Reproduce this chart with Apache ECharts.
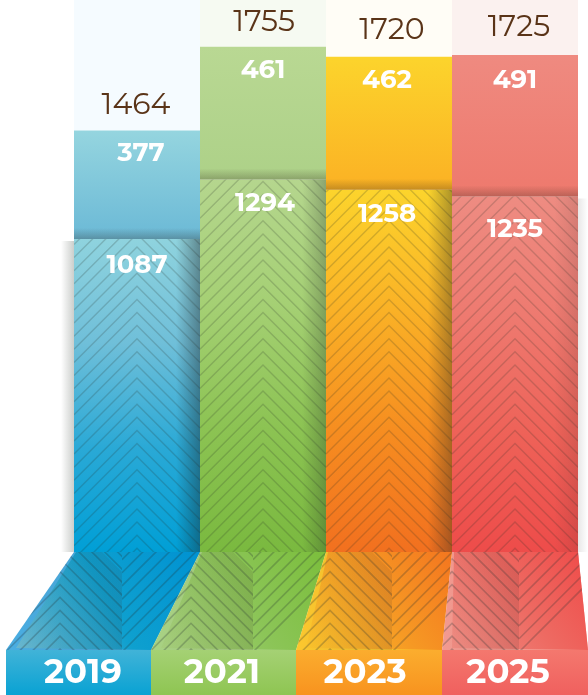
<!DOCTYPE html>
<html><head><meta charset="utf-8">
<style>html,body{margin:0;padding:0;background:#fff}#c{width:588px;height:695px}</style>
<script src="https://cdn.jsdelivr.net/npm/echarts@6/dist/echarts.min.js"></script>
</head><body><div id="c"></div>
<script>
const years = ['2019','2021','2023','2025'];
const lowerValues = [1087,1294,1258,1235];
const upperValues = [377,461,462,491];
const totalValues = [1464,1755,1720,1725];

const axisMax = 1917;
const FONT = 'Montserrat, Inter, "Open Sans", sans-serif';
const lowerNudge = [[0,8],[2,6],[-2,7],[0,15]];
const upperNudge = [[4,5],[0,6],[-2,6],[0,7]];
const totalNudge = [[-1,-5],[1,-4],[3,-7],[4,-8]];
const paleColors = ['#f5fbff','#f6faf2','#fffdf6','#fbf1ef'];
const lowerStops = [['#8fd3de','#6fbfd9','#2aa9d6','#009fd6'],['#b5d68e','#a5d074','#8cc353','#7ab93f'],['#fcd42c','#fab126','#f68d20','#f2701f'],['#ee8c82','#ee7a70','#ee6258','#ee4c4a']];
const upperStops = [['#95d5df','#6bb9d6'],['#b9d893','#add188'],['#fcd42c','#fbb124'],['#ef8a80','#ee796d']];
const floorStops = [['#6cb9d0','#0ea0cf','#0092d2'],['#a8d07f','#8cc558','#7bbe3c'],['#fcc62c','#f69a24','#f4761f'],['#f08e84','#ee6a62','#ef4b49']];
const stripColors = ['#4aaee3','#a9d384','#fcc82e','#f39a90'];
const bandStops = [['#41b3d8','#09a2d3'],['#a5d174','#8ec552'],['#fbad2e','#f8931f'],['#f4786e','#f0605e']];
const rightShade = [0.42,0.28,0.36,0.12];
const floorBottom = [6,151,296,442,588];
const floorApex = [60,191,330,452];
const floorSplit = [122,253,392,519];
const yearCentre = [83,222,365,508];

const vGrad = c => ({type:'linear',x:0,y:0,x2:0,y2:1,colorStops:c.map((s,i)=>({offset:i/(c.length-1),color:s}))});
const diagGrad = c => ({type:'linear',x:0,y:1,x2:1,y2:0,colorStops:c.map((s,i)=>({offset:i/(c.length-1),color:s}))});
const hGrad = (a,b,rgb) => ({type:'linear',x:0,y:0,x2:1,y2:0,colorStops:[{offset:0,color:`rgba(${rgb},${a})`},{offset:1,color:`rgba(${rgb},${b})`}]});
const vFade = (a,b,rgb) => ({type:'linear',x:0,y:0,x2:0,y2:1,colorStops:[{offset:0,color:`rgba(${rgb},${a})`},{offset:1,color:`rgba(${rgb},${b})`}]});
const barInk = {stroke:'rgba(40,50,40,0.2)',lineWidth:1.4,fill:null};
const floorInk = {stroke:'rgba(40,50,50,0.26)',lineWidth:1.6,fill:null};
const line = (pts,st) => ({type:'polyline',shape:{points:pts},style:st,silent:true});
const solid = {opacity:1};

function paleItem(p,api){
  const i=api.value(0), t=api.coord([i,api.value(1)]), top=api.coord([i,axisMax]);
  const w=api.size([1,0])[0];
  return {type:'rect',shape:{x:t[0]-w/2,y:top[1],width:w,height:t[1]-top[1]},style:{fill:paleColors[i]},silent:true};
}
function hatchItem(p,api){
  const i=api.value(0), t=api.coord([i,api.value(1)]), b=api.coord([i,0]);
  const w=api.size([1,0])[0], h=w/2, cx=t[0], kids=[];
  for(let y=b[1]-3.7;y>t[1]-h;y-=13.1) kids.push(line([[cx-h,y+h],[cx,y],[cx+h,y+h]],barInk));
  const clipped={type:'group',children:kids,clipPath:{type:'rect',shape:{x:cx-h,y:t[1],width:w,height:b[1]-t[1]}}};
  const H=b[1]-t[1], shades=[clipped];
  shades.push({type:'rect',shape:{x:cx-h,y:t[1]-11,width:w,height:11},style:{fill:vFade(0,0.26,'40,30,20')}});
  shades.push({type:'rect',shape:{x:cx+h-24,y:t[1],width:24,height:H},style:{fill:hGrad(0,rightShade[i],'30,35,35')}});
  if(i===0) shades.push({type:'rect',shape:{x:cx-h-13,y:t[1]+2,width:13,height:H-2},style:{fill:hGrad(0,0.28,'70,80,70')}});
  if(i===3) shades.push({type:'rect',shape:{x:cx+h,y:t[1]+2,width:10,height:H-2},style:{fill:hGrad(0.12,0,'70,60,60')}});
  return {type:'group',children:shades,silent:true};
}
function floorItem(p,api){
  const i=api.value(0), b=api.coord([i,0]), w=api.size([1,0])[0];
  const tl=b[0]-w/2, tr=b[0]+w/2, y0=b[1], y1=650, y2=695, bl=floorBottom[i], br=floorBottom[i+1];
  const sp=floorSplit[i], ax=floorApex[i], kids=[];
  const outer=[[tl,y0],[tr,y0],[br,y1],[bl,y1]];
  kids.push({type:'polygon',shape:{points:outer},style:{fill:stripColors[i]}});
  kids.push({type:'polygon',shape:{points:[[tl+2,y0],[tr,y0],[br,y1],[bl+10,y1-2]]},style:{fill:diagGrad(floorStops[i])}});
  const dark=[[tl,y0],[sp-20,y0],[sp,y0+20],[sp,y1],[bl,y1]];
  kids.push({type:'polygon',shape:{points:dark},style:{fill:hGrad(0,0.12,'60,40,40')}});
  const left=[], right=[];
  for(let y=y1+12;y>y0-260;y-=12.9) left.push(line([[ax-200,y+200],[ax,y],[ax+200,y+200]],floorInk));
  for(let y=y1+2;y>y0-10;y-=13.2) right.push(line([[sp,y],[sp+200,y-200]],floorInk));
  const clipL=[[tl,y0],[Math.min(sp,tr),y0],[Math.min(sp,tr),y1],[bl,y1]];
  const clipR=[[sp,y0],[tr,y0],[br,y1],[sp,y1]];
  kids.push({type:'group',children:left,clipPath:{type:'polygon',shape:{points:clipL}}});
  kids.push({type:'group',children:right,clipPath:{type:'polygon',shape:{points:clipR}}});
  kids.push({type:'rect',shape:{x:bl,y:y1,width:br-bl,height:y2-y1},style:{fill:vGrad(bandStops[i])}});
  kids.push({type:'text',style:{text:years[i],x:yearCentre[i],y:(y1+y2)/2,fill:'#fff',font:'700 34px '+FONT,textAlign:'center',textVerticalAlign:'middle'}});
  return {type:'group',children:kids,silent:true};
}

const chart = echarts.init(document.getElementById('c'),null,{renderer:'canvas'});
chart.setOption({
  animation:false,
  backgroundColor:'#fff',
  grid:{left:74,top:0,width:504,height:552},
  xAxis:{type:'category',data:years,show:false,boundaryGap:true},
  yAxis:{type:'value',min:0,max:axisMax,show:false},
  series:[
    {type:'custom',name:'backdrop',z:1,clip:false,renderItem:paleItem,
     data:totalValues.map((v,i)=>[i,v]),encode:{x:0,y:1},silent:true},
    {type:'custom',name:'hatch',z:3,clip:false,renderItem:hatchItem,
     data:lowerValues.map((v,i)=>[i,v]),encode:{x:0,y:1},silent:true},
    {type:'bar',name:'lower',stack:'s',barWidth:'100%',z:2,
     data:lowerValues.map((v,i)=>({value:v,itemStyle:{color:vGrad(lowerStops[i])}}))},
    {type:'bar',name:'upper',stack:'s',barWidth:'100%',z:2,
     data:upperValues.map((v,i)=>({value:v,itemStyle:{color:vGrad(upperStops[i])}}))},
    {type:'custom',name:'floor',z:7,clip:false,renderItem:floorItem,
     data:years.map((y,i)=>[i,0]),encode:{x:0,y:1},silent:true},
    {type:'scatter',name:'lowerLabels',z:8,symbolSize:0,itemStyle:solid,
     data:lowerValues.map((v,i)=>({value:[i,v],label:{offset:[lowerNudge[i][0],lowerNudge[i][1]+5]}})),
     label:{show:true,position:'bottom',distance:0,color:'#fff',fontFamily:FONT,fontWeight:700,fontSize:26,
       formatter:p=>String(p.value[1])}},
    {type:'scatter',name:'upperLabels',z:8,symbolSize:0,itemStyle:solid,
     data:upperValues.map((v,i)=>({value:[i,v+lowerValues[i]],label:{offset:[upperNudge[i][0],upperNudge[i][1]+5],formatter:String(v)}})),
     label:{show:true,position:'bottom',distance:0,color:'#fff',fontFamily:FONT,fontWeight:700,fontSize:26}},
    {type:'scatter',name:'total',z:8,symbolSize:0,itemStyle:solid,
     data:totalValues.map((v,i)=>({value:[i,v],label:{offset:totalNudge[i]}})),
     label:{show:true,position:'top',color:'#5a3418',fontFamily:FONT,fontWeight:400,fontSize:30,
       formatter:p=>String(p.value[1])}}
  ]
});
</script></body></html>
